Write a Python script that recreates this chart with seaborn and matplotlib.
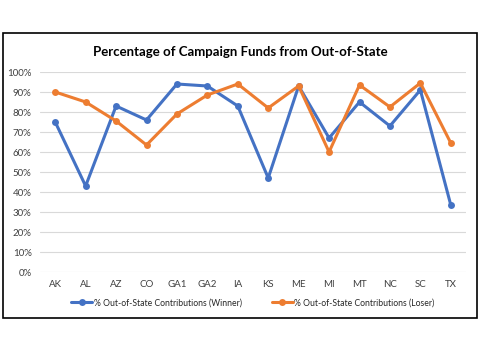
import pandas as pd
import matplotlib
matplotlib.use('Agg')
import matplotlib.pyplot as plt
from matplotlib.patches import Rectangle
from matplotlib.ticker import PercentFormatter
import seaborn as sns

races = ['AK', 'AL', 'AZ', 'CO', 'GA1', 'GA2', 'IA', 'KS', 'ME', 'MI', 'MT', 'NC', 'SC', 'TX']
winner = [0.75, 0.43, 0.83, 0.76, 0.94, 0.93, 0.83, 0.47, 0.93, 0.67, 0.85, 0.73, 0.91, 0.335]
loser = [0.90, 0.85, 0.755, 0.635, 0.79, 0.885, 0.94, 0.82, 0.93, 0.60, 0.935, 0.825, 0.945, 0.645]
series_names = ['% Out-of-State Contributions (Winner)', '% Out-of-State Contributions (Loser)']
colors = ['#4472C4', '#ED7D31']

sns.set_style('white')
plt.rcParams['font.family'] = ['Lato', 'DejaVu Sans']

df = pd.DataFrame({'race': races * 2,
                   'pct': winner + loser,
                   'series': [series_names[0]] * len(races) + [series_names[1]] * len(races)})
df['idx'] = list(range(len(races))) * 2

fig = plt.figure(figsize=(4.8, 3.6), dpi=100)
ax = fig.add_axes([40 / 480, 1 - 272 / 360, 426 / 480, 200 / 360])

sns.lineplot(data=df, x='idx', y='pct', hue='series', palette=colors, marker='o',
             markersize=5, markeredgewidth=0, linewidth=2.2, sort=False, ax=ax)

ax.set_xlim(-0.5, len(races) - 0.5)
ax.set_ylim(0, 1.0)
ax.set_xticks(range(len(races)))
ax.set_xticklabels(races)
ax.set_yticks([i / 10 for i in range(11)])
ax.yaxis.set_major_formatter(PercentFormatter(1.0, decimals=0))
ax.tick_params(axis='both', length=0, labelsize=7, colors='#404040', pad=6)
ax.grid(axis='y', color='#d9d9d9', linewidth=0.8)
ax.set_axisbelow(True)
ax.set_xlabel('')
ax.set_ylabel('')
sns.despine(ax=ax, left=True, bottom=True, top=True, right=True)

fig.text(0.5, 1 - 52 / 360, 'Percentage of Campaign Funds from Out-of-State',
         ha='center', va='center', fontsize=9.5, fontweight='bold', color='black')

handles, labels = ax.get_legend_handles_labels()
ax.legend(handles, labels, loc='center', bbox_to_anchor=(0.5, -0.155), ncol=2,
          frameon=False, fontsize=6.2, handlelength=2.4, handletextpad=0.2,
          columnspacing=3.5, borderaxespad=0)
for t in ax.get_legend().get_texts():
    t.set_color('#262626')

fig.patches.append(Rectangle((3 / 480, 1 - 318 / 360), 474 / 480, 285 / 360,
                             transform=fig.transFigure, fill=False,
                             edgecolor='black', linewidth=1.2))

fig.savefig('out.png', dpi=100)
